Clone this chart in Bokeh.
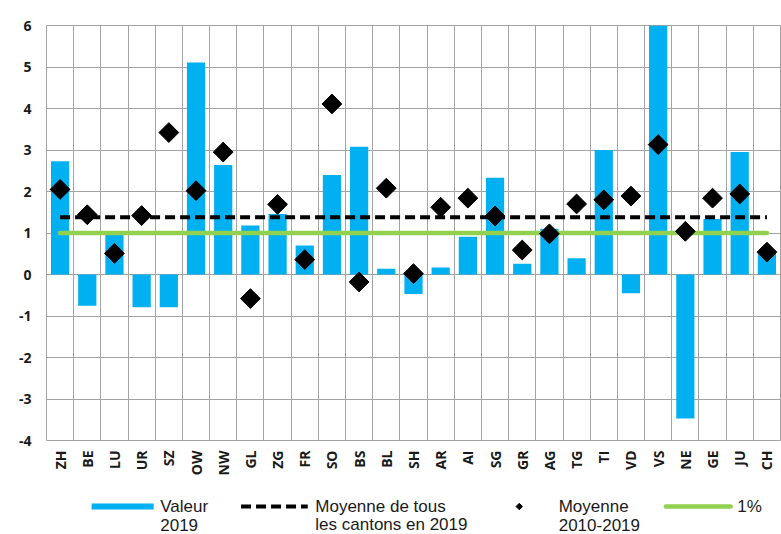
import numpy as np
from bokeh.plotting import figure
from bokeh.models import Range1d, FixedTicker
from bokeh.layouts import column
from bokeh.embed import file_html
from bokeh.resources import INLINE
from bokeh.core.properties import value

# ---------------- data ----------------
cantons = ["ZH", "BE", "LU", "UR", "SZ", "OW", "NW", "GL", "ZG", "FR", "SO", "BS", "BL", "SH",
           "AR", "AI", "SG", "GR", "AG", "TG", "TI", "VD", "VS", "NE", "GE", "JU", "CH"]
valeur_2019 = [2.73, -0.75, 0.96, -0.79, -0.79, 5.11, 2.64, 1.18, 1.46, 0.70, 2.40, 3.08, 0.14, -0.47,
               0.17, 0.91, 2.33, 0.26, 1.10, 0.39, 3.00, -0.45, 6.00, -3.47, 1.34, 2.95, 0.54]
moyenne_2010_2019 = [2.05, 1.44, 0.51, 1.42, 3.42, 2.02, 2.95, -0.58, 1.69, 0.36, 4.11, -0.18, 2.08, 0.02,
                     1.62, 1.84, 1.41, 0.59, 0.98, 1.70, 1.80, 1.89, 3.13, 1.04, 1.84, 1.94, 0.54]
moyenne_cantons_2019 = 1.38
seuil_1pct = 1.0
y_ticks = [-4, -3, -2, -1, 0, 1, 2, 3, 4, 5, 6]
y_tick_labels = ["-4", "-3", "-2", "-1", "0", "1", "2", "3", "4", "5", "6"]
legend_labels = [("Valeur", "2019"),
                 ("Moyenne de tous", "les cantons en 2019"),
                 ("Moyenne", "2010-2019"),
                 ("1%", "")]

# ---------------- styles ----------------
BLUE = "#00B0F0"
GREEN = "#92D050"
GRID = "#A3A3A3"
TXT = "#1a1a1a"
TICK_FONT = "Open Sans"
LEG_FONT = "Liberation Sans"

n = len(cantons)
xs = [i + 0.5 for i in range(n)]

p = figure(width=781, height=480, x_range=Range1d(0, n), y_range=Range1d(y_ticks[0], y_ticks[-1]),
           output_backend="svg", toolbar_location=None,
           min_border_left=46, min_border_right=1, min_border_top=25, min_border_bottom=40)
p.background_fill_color = "white"
p.border_fill_color = "white"
p.outline_line_color = GRID
p.outline_line_width = 1

# grid at category boundaries
p.xgrid.ticker = FixedTicker(ticks=list(range(0, n + 1)))
p.ygrid.ticker = FixedTicker(ticks=y_ticks)
for g in (p.xgrid, p.ygrid):
    g.grid_line_color = GRID
    g.grid_line_width = 1

# axes
p.xaxis.ticker = FixedTicker(ticks=xs)
p.xaxis.major_label_overrides = {x: c for x, c in zip(xs, cantons)}
p.xaxis.major_label_orientation = np.pi / 2
p.yaxis.ticker = FixedTicker(ticks=y_ticks)
p.yaxis.major_label_overrides = {t: s for t, s in zip(y_ticks, y_tick_labels)}
for ax in (p.xaxis, p.yaxis):
    ax.axis_line_color = None
    ax.major_tick_line_color = None
    ax.minor_tick_line_color = None
    ax.major_tick_out = 0
    ax.major_tick_in = 0
    ax.minor_tick_out = 0
    ax.minor_tick_in = 0
    ax.major_label_text_font = TICK_FONT
    ax.major_label_text_font_style = "bold"
    ax.major_label_text_font_size = "14px"
    ax.major_label_text_color = TXT
p.xaxis.major_label_standoff = 10
p.yaxis.major_label_standoff = 15

# bars
p.vbar(x=xs, top=valeur_2019, bottom=0, width=0.67, fill_color=BLUE, line_color=None)

# reference lines
p.line(x=[xs[0], xs[-1]], y=[seuil_1pct, seuil_1pct], line_color=GREEN, line_width=4.5, line_cap="round")
p.line(x=[xs[0], xs[-1]], y=[moyenne_cantons_2019, moyenne_cantons_2019], line_color="black",
       line_width=4, line_dash="10 5")

# diamonds
p.scatter(x=xs, y=moyenne_2010_2019, marker="square", angle=np.pi / 4, size=14,
          fill_color="black", line_color="black")

# ---------------- legend (separate strip) ----------------
LH = 54
L = figure(width=781, height=LH, x_range=Range1d(0, 781), y_range=Range1d(LH, 0),
           output_backend="svg", toolbar_location=None, x_axis_type=None, y_axis_type=None,
           min_border_left=0, min_border_right=0, min_border_top=0, min_border_bottom=0)
L.outline_line_color = None
L.background_fill_color = "white"
L.border_fill_color = "white"

y1, y2 = 26, 44
L.line(x=[48, 114], y=[y1, y1], line_color=BLUE, line_width=6)
L.line(x=[207, 278], y=[y1, y1], line_color="black", line_width=4, line_dash="10 5")
L.scatter(x=[503], y=[y1], marker="square", angle=np.pi / 4, size=4.5, fill_color="black", line_color="black")
L.line(x=[659, 728], y=[y1, y1], line_color=GREEN, line_width=4.5, line_cap="round")

tx = [121, 286, 545, 735]
L.text(x=tx, y=[y1] * 4, text=[a for a, b in legend_labels], text_font=value(LEG_FONT),
       text_font_size="17px", text_baseline="middle", text_align="left", text_color=TXT)
L.text(x=tx, y=[y2] * 4, text=[b for a, b in legend_labels], text_font=value(LEG_FONT),
       text_font_size="17px", text_baseline="middle", text_align="left", text_color=TXT)

layout = column(p, L, spacing=0)
open("out.html", "w").write(file_html(layout, INLINE))
